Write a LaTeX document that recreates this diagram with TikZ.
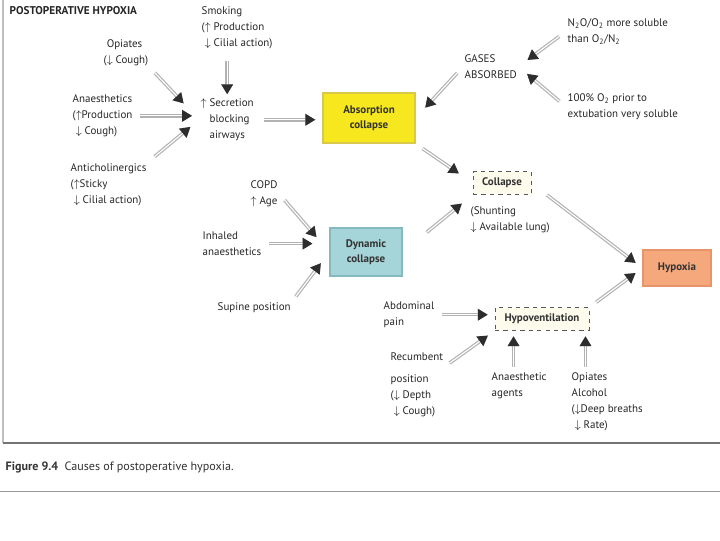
\documentclass[tikz,border=0pt]{standalone}
\usepackage{fontspec}
\setsansfont{PT Sans}
\usepackage{xcolor}
\usetikzlibrary{arrows.meta,positioning,calc}

\definecolor{absorbfill}{HTML}{F6E71F}
\definecolor{absorbline}{HTML}{D9C84A}
\definecolor{dynfill}{HTML}{A5D4D9}
\definecolor{dynline}{HTML}{86B9BF}
\definecolor{hypofill}{HTML}{F6A87D}
\definecolor{hypoline}{HTML}{E8946A}
\definecolor{cream}{HTML}{FCFBEC}

\begin{document}
\begin{tikzpicture}[
  x=0.025cm, y=-0.025cm,
  txt/.style={font=\sffamily\fontsize{7.8}{11.4}\selectfont, align=left, inner sep=1pt, anchor=north west, text=black!85},
  box/.style={draw, line width=1pt, align=center, font=\sffamily\bfseries\fontsize{7.8}{11}\selectfont, text=black!80},
  dbox/.style={draw=black!65, dashed, fill=cream, align=center, inner sep=4pt, font=\sffamily\bfseries\fontsize{7.8}{11}\selectfont, text=black!80},
  cause/.style={draw=white, line width=0.8pt,
    -{Triangle[length=7pt,width=8.5pt,line width=0pt,color=gray!35!black]},
    preaction={draw=gray!60, line width=2.5pt, -{Triangle[length=7pt,width=8.5pt,line width=0pt]}}}
]
\useasboundingbox (0,0) rectangle (720,540);

% frame rules
\draw[black!25, line width=0.8pt] (3,0) -- (3,443);
\draw[black!55, line width=0.8pt] (3,443) -- (720,443);
\draw[black!40, line width=0.6pt] (0,491) -- (720,491);

% causes of secretions
\node[txt, font=\sffamily\bfseries\fontsize{8}{10}\selectfont] (title) at (8,5) {POSTOPERATIVE HYPOXIA};
\node[txt] (smoking) at (200,5) {Smoking\\($\uparrow$ Production\\\phantom{(}$\downarrow$ Cilial action)};
\node[txt] (opiates) at (102,38) {\phantom{(}Opiates\\($\downarrow$ Cough)};
\node[txt] (anaes) at (71,93) {Anaesthetics\\($\uparrow$Production\\\phantom{(}$\downarrow$ Cough)};
\node[txt] (antichol) at (69,162) {Anticholinergics\\($\uparrow$Sticky\\\phantom{(}$\downarrow$ Cilial action)};
\node[txt] (secretion) at (199,97) {$\uparrow$ Secretion\\\phantom{$\uparrow$ }blocking\\\phantom{$\uparrow$ }airways};

% absorption side
\node[box, draw=absorbline, fill=absorbfill, minimum width=2.3cm, minimum height=1.25cm] (absorption) at (369,118) {Absorption\\collapse};
\node[txt] (gases) at (463,53) {GASES\\ABSORBED};
\node[txt] (soluble) at (566,17) {N\textsubscript{2}O/O\textsubscript{2} more soluble\\than O\textsubscript{2}/N\textsubscript{2}};
\node[txt] (oxygen) at (566,92) {100\% O\textsubscript{2} prior to\\extubation very soluble};

% dynamic side
\node[txt] (copd) at (249,179) {COPD\\$\uparrow$ Age};
\node[txt] (inhaled) at (201,230) {Inhaled\\anaesthetics};
\node[txt] (supine) at (216,301) {Supine position};
\node[box, draw=dynline, fill=dynfill, minimum width=1.8cm, minimum height=1.2cm] (dynamic) at (366,252) {Dynamic\\collapse};

% collapse and hypoxia
\node[dbox, minimum width=1.45cm, minimum height=0.57cm] (collapse) at (502,183) {Collapse};
\node[txt] (shunting) at (469,205) {(Shunting\\$\downarrow$ Available lung)};
\node[box, draw=hypoline, fill=hypofill, minimum width=1.7cm, minimum height=0.9cm] (hypoxia) at (677,268) {Hypoxia};

% hypoventilation
\node[dbox, minimum width=2.35cm, minimum height=0.57cm] (hypovent) at (542,319) {Hypoventilation};
\node[txt] (abdominal) at (382,300) {Abdominal\\pain};
\node[txt] (recumbent) at (389,351) {Recumbent\\[4pt]position\\($\downarrow$ Depth\\\phantom{(}$\downarrow$ Cough)};
\node[txt] (agents) at (490,371) {Anaesthetic\\agents};
\node[txt] (alcohol) at (570,371) {Opiates\\Alcohol\\($\downarrow$Deep breaths\\\phantom{(}$\downarrow$ Rate)};

\node[txt, font=\sffamily\fontsize{8.6}{10}\selectfont, text=black!80] (caption) at (4,460) {\textbf{Figure 9.4}\ \ Causes of postoperative hypoxia.};

% arrows
\draw[cause, shorten <=7pt, shorten >=2pt] (smoking.south -| secretion.north) -- (secretion.north);
\draw[cause, shorten <=5pt, shorten >=16pt] (opiates.south east) -- (secretion.west);
\draw[cause, shorten <=4pt, shorten >=5pt] (anaes.east) -- (anaes.east -| secretion.west);
\draw[cause, shorten <=6pt, shorten >=8pt] (antichol.north east) -- (secretion.west);
\draw[cause, shorten <=6pt, shorten >=5pt] (secretion.east) -- (secretion.east -| absorption.west);
\draw[cause, shorten <=6pt, shorten >=10pt] (gases.west) -- (absorption.east);
\draw[cause, shorten <=6pt, shorten >=8pt] (soluble.west) -- (gases.east);
\draw[cause, shorten <=6pt, shorten >=8pt] (oxygen.west) -- (gases.east);
\draw[cause, shorten <=6pt, shorten >=12pt] (absorption.south east) -- (collapse.west);
\draw[cause, shorten <=6pt, shorten >=14pt] (copd.east) -- (dynamic.west);
\draw[cause, shorten <=4pt, shorten >=12pt] (inhaled.east) -- (inhaled.east -| dynamic.west);
\draw[cause, shorten <=4pt, shorten >=10pt] (supine.north east) -- (dynamic.west);
\draw[cause, shorten <=22pt, shorten >=10pt] (dynamic.east) -- (collapse.south west);
\draw[cause, shorten <=14pt, shorten >=6pt] (collapse.east) -- (hypoxia.west);
\draw[cause, shorten <=6pt, shorten >=6pt] (hypovent.north east) -- (hypoxia.west);
\draw[cause, shorten <=4pt, shorten >=5pt] (abdominal.east) -- (abdominal.east -| hypovent.west);
\draw[cause, shorten <=4pt, shorten >=6pt] ([yshift=-11pt]recumbent.north east) -- (hypovent.south west);
\draw[cause, shorten <=3pt, shorten >=4pt] ([xshift=-4pt]agents.north) -- ([xshift=-4pt]agents.north |- hypovent.south);
\draw[cause, shorten <=3pt, shorten >=4pt] ([xshift=11pt]alcohol.north west) -- ([xshift=11pt]alcohol.north west |- hypovent.south);
\end{tikzpicture}
\end{document}
